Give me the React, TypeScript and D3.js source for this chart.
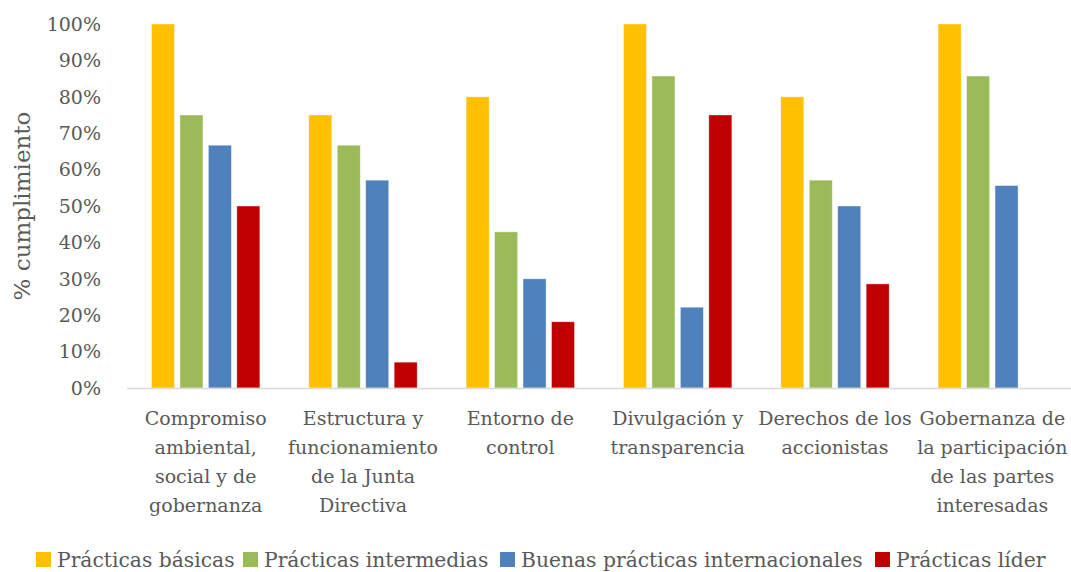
import React from "react";
import * as d3 from "d3";

const categories: string[][] = [
  ["Compromiso", "ambiental,", "social y de", "gobernanza"],
  ["Estructura y", "funcionamiento", "de la Junta", "Directiva"],
  ["Entorno de", "control"],
  ["Divulgación y", "transparencia"],
  ["Derechos de los", "accionistas"],
  ["Gobernanza de", "la participación", "de las partes", "interesadas"],
];

const seriesNames = [
  "Prácticas básicas",
  "Prácticas intermedias",
  "Buenas prácticas internacionales",
  "Prácticas líder",
];

const basicas = [1.0, 0.75, 0.8, 1.0, 0.8, 1.0];
const intermedias = [0.75, 0.667, 0.429, 0.857, 0.571, 0.857];
const internacionales = [0.667, 0.571, 0.3, 0.222, 0.5, 0.556];
const lider = [0.5, 0.071, 0.182, 0.75, 0.286, null];

const yTicks = [0, 0.1, 0.2, 0.3, 0.4, 0.5, 0.6, 0.7, 0.8, 0.9, 1.0];

const colors = ["#FFC000", "#9BBB59", "#4F81BD", "#C00000"];

const W = 1071;
const H = 572;
const FONT = "'DejaVu Serif', serif";
const TEXT = "#595959";

export default function App() {
  const series = [basicas, intermedias, internacionales, lider];
  const x = d3
    .scaleBand<number>()
    .domain(categories.map((_, i) => i))
    .range([127, 1071]);
  const inner = d3
    .scaleBand<number>()
    .domain([0, 1, 2, 3])
    .range([0, x.bandwidth()])
    .paddingInner(0.19)
    .paddingOuter(0.86);
  const y = d3.scaleLinear().domain([0, 1]).range([388, 24]);
  const fmt = d3.format(".0%");

  const legendX = [36, 243, 500, 875];

  return (
    <svg
      width={W}
      height={H}
      style={{ position: "absolute", left: 0, top: 0, background: "#fff" }}
      fontFamily={FONT}
    >
      {yTicks.map((t) => (
        <text
          key={t}
          x={101}
          y={y(t)}
          dy="0.36em"
          textAnchor="end"
          fontSize={19}
          fill={TEXT}
        >
          {fmt(t)}
        </text>
      ))}
      <text
        transform={`translate(30,${y(0.5) + 0}) rotate(-90)`}
        textAnchor="middle"
        fontSize={23}
        fill={TEXT}
      >
        % cumplimiento
      </text>
      {series.map((vals, si) =>
        vals.map((v, ci) =>
          v == null ? null : (
            <rect
              key={`${si}-${ci}`}
              x={(x(ci) as number) + (inner(si) as number)}
              y={y(v)}
              width={inner.bandwidth()}
              height={y(0) - y(v)}
              fill={colors[si]}
              stroke="#ffffff"
              strokeOpacity={0.5}
              strokeWidth={0.8}
            />
          )
        )
      )}
      <line x1={127} x2={1071} y1={388.5} y2={388.5} stroke="#D9D9D9" strokeWidth={1.5} />
      {categories.map((lines, ci) => (
        <text
          key={ci}
          x={(x(ci) as number) + x.bandwidth() / 2}
          y={425}
          textAnchor="middle"
          fontSize={19}
          fill={TEXT}
        >
          {lines.map((l, li) => (
            <tspan key={li} x={(x(ci) as number) + x.bandwidth() / 2} dy={li === 0 ? 0 : 29}>
              {l}
            </tspan>
          ))}
        </text>
      ))}
      {seriesNames.map((n, i) => (
        <g key={n} transform={`translate(${legendX[i]},552)`}>
          <rect width={15} height={15} fill={colors[i]} />
          <text x={21} y={15} fontSize={20.3} fill={TEXT}>
            {n}
          </text>
        </g>
      ))}
    </svg>
  );
}
